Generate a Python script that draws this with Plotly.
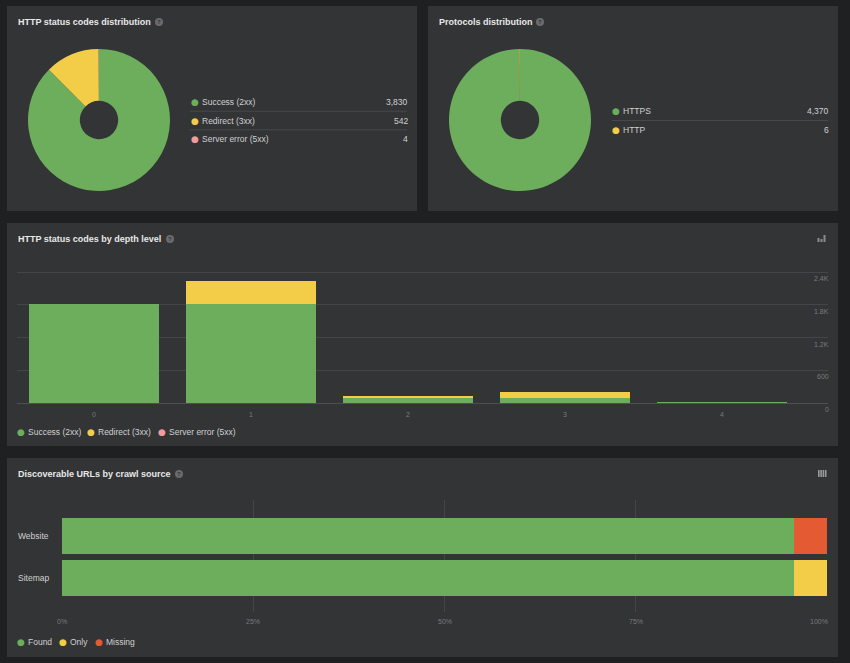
import plotly.graph_objects as go

W, H = 850, 663

# ---------------- data ----------------
status_labels = ["Success (2xx)", "Redirect (3xx)", "Server error (5xx)"]
status_values = [3830, 542, 4]

protocol_labels = ["HTTPS", "HTTP"]
protocol_values = [4370, 6]

depth_levels = ["0", "1", "2", "3", "4"]
depth_success = [1815, 1815, 100, 98, 2]
depth_redirect = [0, 420, 25, 97, 0]
depth_server_error = [0, 4, 0, 0, 0]
depth_tick_vals = [0, 600, 1200, 1800, 2400]
depth_tick_text = ["0", "600", "1.2K", "1.8K", "2.4K"]

crawl_sources = ["Website", "Sitemap"]
crawl_found = [95.7, 95.7]
crawl_only = [0.0, 4.3]
crawl_missing = [4.3, 0.0]
crawl_series = ["Found", "Only", "Missing"]
crawl_tick_vals = [0, 25, 50, 75, 100]

# ---------------- style ----------------
GREEN = "#6cae5b"
YELLOW = "#f4cd48"
PINK = "#f29b9b"
RED = "#e45a32"
PAGE_BG = "#1f2022"
PANEL_BG = "#333436"
GRID = "#434547"
TITLE_C = "#e8e8e8"
TEXT_C = "#d0d0d0"
TICK_C = "#7a7a7a"
FONT = "Liberation Sans, Arial, sans-serif"
TXT = 8.5


def px(x):
    return x / W


def py(y):
    return 1 - y / H


fig = go.Figure()
shapes = []
annotations = []


def label(x, y, text, size, color, anchor="left", family=FONT, xref="paper", yref="paper", yanchor="middle",
          yshift=0):
    shift = {"left": -1, "right": 2, "center": 0}[anchor]
    annotations.append(dict(xref=xref, yref=yref, x=x, y=y, xanchor=anchor, yanchor=yanchor,
                            xshift=shift, yshift=yshift, text=text, showarrow=False, borderpad=0,
                            font=dict(family=family, size=size, color=color)))


# panels
for x0, y0, x1, y1 in [(7, 6, 417, 211), (428, 6, 838, 211), (7, 223, 838, 446), (7, 458, 838, 657)]:
    shapes.append(dict(type="rect", xref="paper", yref="paper", x0=px(x0), x1=px(x1),
                       y0=py(y1), y1=py(y0), fillcolor=PANEL_BG, line=dict(width=0), layer="below"))

# titles + help icons
for text, tx, ty, qx in [("HTTP status codes distribution", 18, 22, 159),
                         ("Protocols distribution", 439, 22, 540),
                         ("HTTP status codes by depth level", 18, 239, 170),
                         ("Discoverable URLs by crawl source", 18, 474, 179)]:
    label(px(tx), py(ty), "<b>%s</b>" % text, 9, TITLE_C)
    shapes.append(dict(type="circle", xref="paper", yref="paper", x0=px(qx - 4), x1=px(qx + 4),
                       y0=py(ty + 4), y1=py(ty - 4), fillcolor="#6a6b6d", line=dict(width=0)))
    label(px(qx), py(ty), "<b>?</b>", 6, PANEL_BG, anchor="center")

# ---------------- pies ----------------
def add_pie(labels, values, colors, cx, cy, r):
    fig.add_trace(go.Pie(labels=labels, values=values, sort=False, direction="clockwise", rotation=0,
                         hole=0.27, textinfo="none", hoverinfo="label+value",
                         marker=dict(colors=colors, line=dict(width=0)), showlegend=False,
                         domain=dict(x=[px(cx - r), px(cx + r)], y=[py(cy + r), py(cy - r)])))


add_pie(status_labels, status_values, [GREEN, YELLOW, PINK], 99, 120, 71)
add_pie(protocol_labels, protocol_values, [GREEN, YELLOW], 520, 120, 71)


def pie_legend(labels, values, colors, dot_x, text_x, right_x, y0, step, line_x0):
    for i, (lab, val, col) in enumerate(zip(labels, values, colors)):
        y = y0 + i * step
        label(px(dot_x), py(y), "●", 9, col, anchor="center", family="DejaVu Sans")
        label(px(text_x), py(y), lab, TXT, TEXT_C)
        label(px(right_x), py(y), f"{val:,}", TXT, TEXT_C, anchor="right")
        if i < len(labels) - 1:
            ly = y + step / 2
            shapes.append(dict(type="line", xref="paper", yref="paper", x0=px(line_x0), x1=px(right_x),
                               y0=py(ly), y1=py(ly), line=dict(color="#46484a", width=1)))


pie_legend(status_labels, status_values, [GREEN, YELLOW, PINK], 195, 202, 407, 102, 18.5, 190)
pie_legend(protocol_labels, protocol_values, [GREEN, YELLOW], 616, 623, 828, 111, 19, 612)

# ---------------- depth bar chart ----------------
bw1 = 130 / 157
# stacking order: success, server error, redirect (legend order kept separately below)
for name, vals, col in [(status_labels[0], depth_success, GREEN),
                        (status_labels[2], depth_server_error, PINK),
                        (status_labels[1], depth_redirect, YELLOW)]:
    fig.add_trace(go.Bar(x=depth_levels, y=vals, name=name, marker=dict(color=col, line=dict(width=0)),
                         width=bw1, xaxis="x", yaxis="y", showlegend=False))

y_zero_px, y_top_px = 403, 272
y_top_dom = 268
y_max = depth_tick_vals[-1] * (y_zero_px - y_top_dom) / (y_zero_px - y_top_px)

for v, t in zip(depth_tick_vals, depth_tick_text):
    label(px(828), v, t, 7, TICK_C, anchor="right", yref="y", yanchor="top", yshift=-2)

for (dx, tx, lab, col) in zip([21, 91, 162], [28, 98, 169], status_labels, [GREEN, YELLOW, PINK]):
    label(px(dx), py(432), "●", 9, col, anchor="center", family="DejaVu Sans")
    label(px(tx), py(432), lab, TXT, TEXT_C)

# bar-chart icon
for x0, x1, h in [(817.5, 819.5, 4), (820.5, 822.5, 3), (823.5, 825.5, 7)]:
    shapes.append(dict(type="rect", xref="paper", yref="paper", x0=px(x0), x1=px(x1),
                       y0=py(242), y1=py(242 - h), fillcolor="#8a8b8d", line=dict(width=0)))

# ---------------- crawl source chart ----------------
bw2 = 36 / 42
for name, vals, col in [(crawl_series[0], crawl_found, GREEN),
                        (crawl_series[1], crawl_only, YELLOW),
                        (crawl_series[2], crawl_missing, RED)]:
    fig.add_trace(go.Bar(y=crawl_sources, x=vals, name=name, orientation="h",
                         marker=dict(color=col, line=dict(width=0)), width=bw2,
                         xaxis="x2", yaxis="y2", showlegend=False))

for src in crawl_sources:
    label(px(18), src, src, TXT, TEXT_C, yref="y2")

for i, v in enumerate(crawl_tick_vals):
    anchor = "right" if i == len(crawl_tick_vals) - 1 else "center"
    label(v, py(621), f"{v}%", 7, TICK_C, anchor=anchor, xref="x2")

for (dx, tx, lab, col) in zip([21, 63, 99], [28, 70, 106], crawl_series, [GREEN, YELLOW, RED]):
    label(px(dx), py(642), "●", 9, col, anchor="center", family="DejaVu Sans")
    label(px(tx), py(642), lab, TXT, TEXT_C)

# column icon
for k in range(4):
    x0 = 818 + k * 2.3
    shapes.append(dict(type="rect", xref="paper", yref="paper", x0=px(x0), x1=px(x0 + 1.6),
                       y0=py(477), y1=py(470), fillcolor="#9a9b9d", line=dict(width=0)))

fig.update_layout(
    width=W, height=H, margin=dict(l=0, r=0, t=0, b=0),
    paper_bgcolor=PAGE_BG, plot_bgcolor="rgba(0,0,0,0)",
    barmode="stack", showlegend=False,
    font=dict(family=FONT, color=TEXT_C),
    shapes=shapes, annotations=annotations,
    xaxis=dict(domain=[px(17), px(828)], anchor="y", type="category", range=[-0.49, 4.675],
               showgrid=False, zeroline=False, showline=False, ticks="", ticklabelstandoff=6,
               tickfont=dict(family=FONT, size=7, color=TICK_C), fixedrange=True),
    yaxis=dict(domain=[py(y_zero_px), py(y_top_dom)], anchor="x", range=[0, y_max],
               tickvals=depth_tick_vals, showticklabels=False, showgrid=True, gridcolor=GRID, gridwidth=1,
               zeroline=True, zerolinecolor="#4c4e50", zerolinewidth=1, showline=False, fixedrange=True),
    xaxis2=dict(domain=[px(62), px(827)], anchor="y2", range=[0, 100], tickvals=crawl_tick_vals,
                showticklabels=False, showgrid=True, gridcolor=GRID, gridwidth=1, zeroline=False,
                showline=False, fixedrange=True),
    yaxis2=dict(domain=[py(612), py(500)], anchor="x2", type="category",
                categoryorder="array", categoryarray=crawl_sources[::-1], range=[-0.81, 1.857],
                showticklabels=False, showgrid=False, zeroline=False, showline=False, fixedrange=True),
)

fig.write_html("out.html", config={"displayModeBar": False},
               post_script="document.body.style.margin='0';document.body.style.background='%s';" % PAGE_BG)
